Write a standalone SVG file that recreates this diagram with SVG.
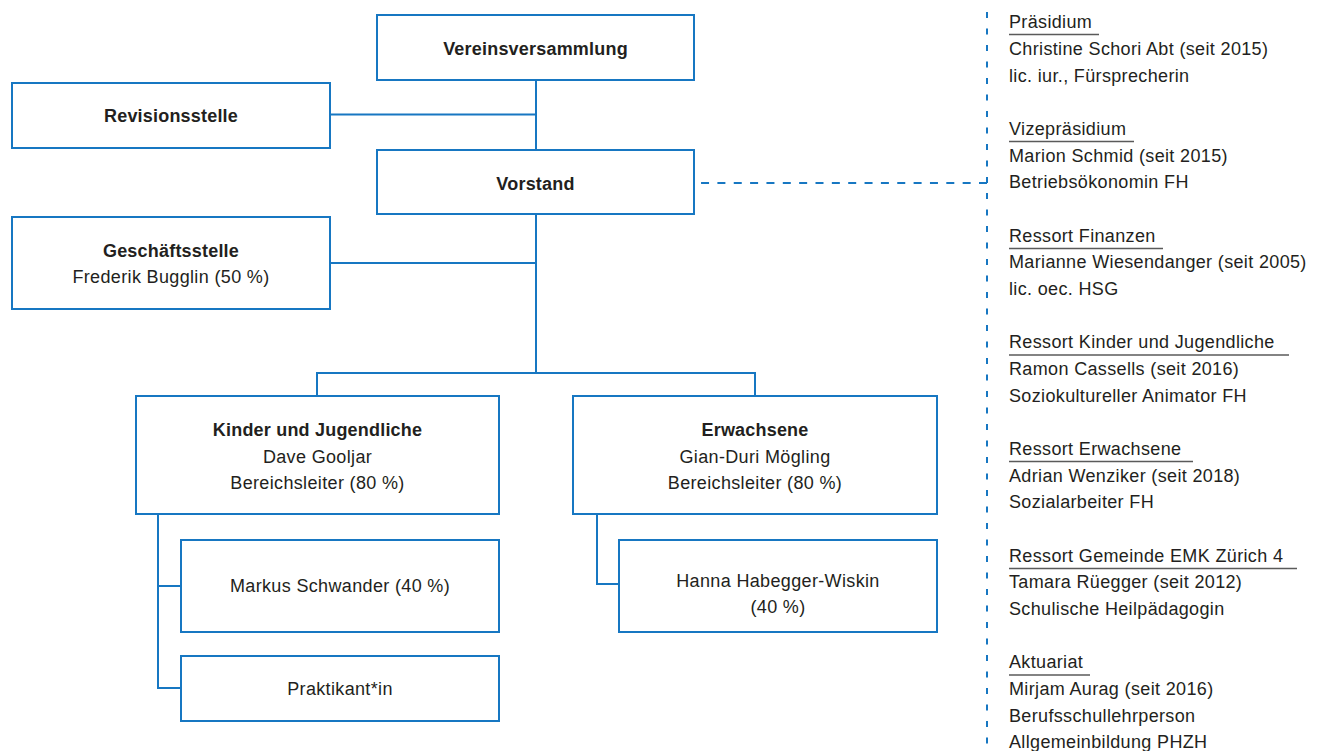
<svg xmlns="http://www.w3.org/2000/svg" width="1328" height="751" viewBox="0 0 1328 751">
<style>
.box{fill:#fff;stroke:#1777c2;stroke-width:2}
.con{fill:none;stroke:#1777c2;stroke-width:2}
.dash{fill:none;stroke:#1777c2;stroke-width:2}
text{font-family:"Liberation Sans",Arial,sans-serif;font-size:18px;fill:#231f20;letter-spacing:0.35px}
.c{text-anchor:middle}
.b{font-weight:bold;letter-spacing:0.2px}
.ul{stroke:#5a5a5a;stroke-width:1.3}
</style>
<rect width="1328" height="751" fill="#fff"/>
<g id="connectors">
<path class="con" d="M536 80V150M330 114.5H536M536 214V373M330 263H536M317 396V373H755V396"/>
<path class="con" d="M158 514V688H181M158 586H181"/>
<path class="con" d="M597 514V584H619"/>
<path class="dash" d="M987 183H701" stroke-dasharray="8 8.35"/>
<path class="dash" d="M987 183V10" stroke-dasharray="6 10.5"/>
<path class="dash" d="M987 193V748" stroke-dasharray="6 10.5"/>
</g>
<g id="vereinsversammlung"><rect class="box" x="377" y="15" width="317" height="65"/><text class="c b" x="535.5" y="55">Vereinsversammlung</text></g>
<g id="revisionsstelle"><rect class="box" x="12" y="83" width="318" height="65"/><text class="c b" x="171" y="121.5">Revisionsstelle</text></g>
<g id="vorstand"><rect class="box" x="377" y="150" width="317" height="64"/><text class="c b" x="535.5" y="190">Vorstand</text></g>
<g id="geschaeftsstelle"><rect class="box" x="12" y="217" width="318" height="92"/><text class="c b" x="171" y="256.7">Geschäftsstelle</text><text class="c" x="171" y="283.3">Frederik Bugglin (50 %)</text></g>
<g id="kinder"><rect class="box" x="136" y="396" width="363" height="118"/><text class="c b" x="317.5" y="436">Kinder und Jugendliche</text><text class="c" x="317.5" y="462.7">Dave Gooljar</text><text class="c" x="317.5" y="489.3">Bereichsleiter (80 %)</text></g>
<g id="erwachsene"><rect class="box" x="573" y="396" width="364" height="118"/><text class="c b" x="755" y="436">Erwachsene</text><text class="c" x="755" y="462.7">Gian-Duri Mögling</text><text class="c" x="755" y="489.3">Bereichsleiter (80 %)</text></g>
<g id="markus"><rect class="box" x="181" y="540" width="318" height="92"/><text class="c" x="340" y="591.7">Markus Schwander (40 %)</text></g>
<g id="praktikant"><rect class="box" x="181" y="656" width="318" height="65"/><text class="c" x="340" y="694.5">Praktikant*in</text></g>
<g id="hanna"><rect class="box" x="619" y="540" width="318" height="92"/><text class="c" x="778" y="586.7">Hanna Habegger-Wiskin</text><text class="c" x="778" y="612.5">(40 %)</text></g>
<g id="vorstand-liste">
<text x="1009" y="28.3">Präsidium</text><line class="ul" x1="1009" y1="34.5" x2="1099" y2="34.5"/>
<text x="1009" y="55">Christine Schori Abt (seit 2015)</text>
<text x="1009" y="81.7">lic. iur., Fürsprecherin</text>
<text x="1009" y="135">Vizepräsidium</text><line class="ul" x1="1009" y1="141.5" x2="1134" y2="141.5"/>
<text x="1009" y="161.7">Marion Schmid (seit 2015)</text>
<text x="1009" y="188.3">Betriebsökonomin FH</text>
<text x="1009" y="241.7">Ressort Finanzen</text><line class="ul" x1="1009" y1="248.5" x2="1163" y2="248.5"/>
<text x="1009" y="268.3">Marianne Wiesendanger (seit 2005)</text>
<text x="1009" y="295">lic. oec. HSG</text>
<text x="1009" y="348.3">Ressort Kinder und Jugendliche</text><line class="ul" x1="1009" y1="355" x2="1289" y2="355"/>
<text x="1009" y="375">Ramon Cassells (seit 2016)</text>
<text x="1009" y="401.7">Soziokultureller Animator FH</text>
<text x="1009" y="455">Ressort Erwachsene</text><line class="ul" x1="1009" y1="461.5" x2="1193" y2="461.5"/>
<text x="1009" y="481.7">Adrian Wenziker (seit 2018)</text>
<text x="1009" y="508.3">Sozialarbeiter FH</text>
<text x="1009" y="561.7">Ressort Gemeinde EMK Zürich 4</text><line class="ul" x1="1009" y1="568.5" x2="1297" y2="568.5"/>
<text x="1009" y="588.3">Tamara Rüegger (seit 2012)</text>
<text x="1009" y="615">Schulische Heilpädagogin</text>
<text x="1009" y="668.3">Aktuariat</text><line class="ul" x1="1009" y1="675" x2="1090" y2="675"/>
<text x="1009" y="695">Mirjam Aurag (seit 2016)</text>
<text x="1009" y="721.7">Berufsschullehrperson</text>
<text x="1009" y="748.3">Allgemeinbildung PHZH</text>
</g>
</svg>
